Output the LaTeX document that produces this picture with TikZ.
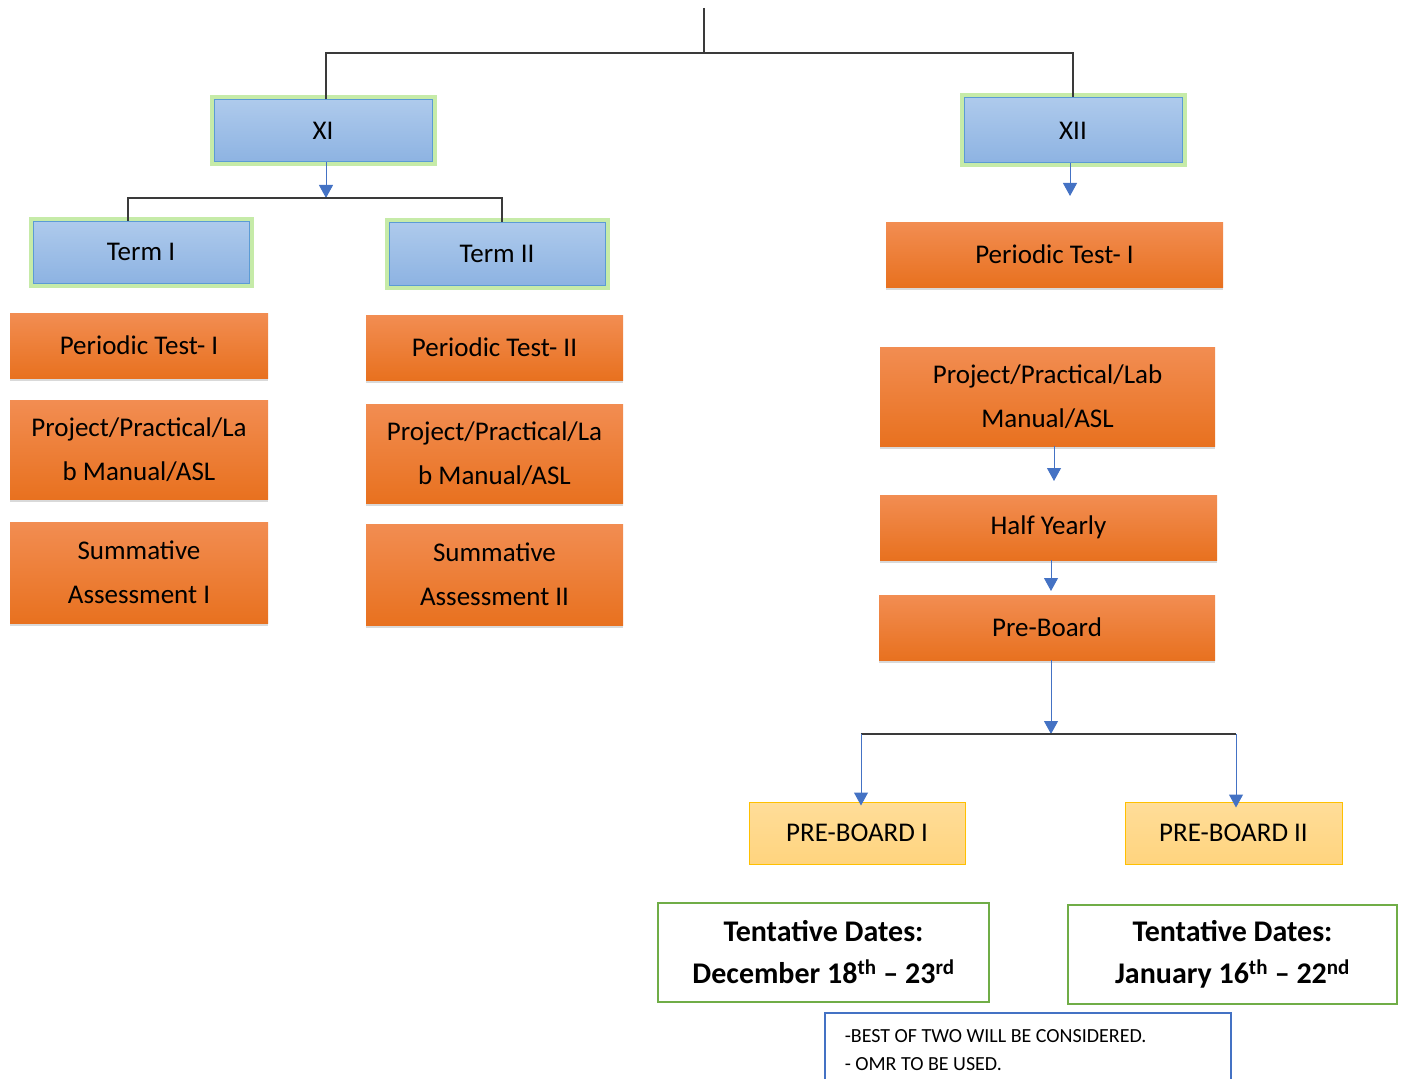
\documentclass[tikz,border=0pt]{standalone}
\usepackage{fontspec}
\setmainfont{Carlito}
\usetikzlibrary{arrows.meta,shadows}

\definecolor{classtop}{HTML}{AECAEC}
\definecolor{classbot}{HTML}{8DB3E2}
\definecolor{classline}{HTML}{5B9BD5}
\definecolor{glowgreen}{HTML}{C6EBA8}
\definecolor{orangetop}{HTML}{F28D52}
\definecolor{orangebot}{HTML}{E8711F}
\definecolor{boardtop}{HTML}{FFDD99}
\definecolor{boardbot}{HTML}{FFD47E}
\definecolor{boardline}{HTML}{FFC000}
\definecolor{dateline}{HTML}{70AD47}
\definecolor{noteline}{HTML}{4472C4}
\definecolor{treeline}{HTML}{3A3A3A}

\begin{document}
\begin{tikzpicture}[x=1pt,y=-1pt,
  every node/.style={font=\fontsize{27pt}{44pt}\selectfont, align=center, inner sep=0pt},
  classbox/.style={draw=classline, line width=1pt, top color=classtop, bottom color=classbot,
    preaction={draw=glowgreen, line width=9pt}},
  testbox/.style={top color=orangetop, bottom color=orangebot,
    drop shadow={shadow xshift=0pt, shadow yshift=-3pt, opacity=0.3}},
  boardbox/.style={draw=boardline, line width=1pt, top color=boardtop, bottom color=boardbot},
  datebox/.style={draw=dateline, line width=1.5pt, fill=white,
    font=\fontsize{30pt}{42pt}\selectfont\bfseries},
  flow/.style={draw=noteline, line width=1pt, -{Triangle[width=14pt,length=13pt]}},
  tree/.style={draw=treeline, line width=1.3pt}]
\useasboundingbox (0,0) rectangle (1407,1078);

%classes
\node[classbox, minimum width=218, minimum height=62] (xi) at (323,131) {XI};
\node[classbox, minimum width=218, minimum height=65] (xii) at (1073,130.5) {XII};
\coordinate (top) at (704,8);
\coordinate (split) at (704,53);
\draw[tree] (top) -- (split);
\draw[tree] ([xshift=3pt]xi.north) |- (split) -| (xii.north);

%class XI terms
\node[classbox, minimum width=216, minimum height=62] (termi) at (141,252) {Term I};
\node[classbox, minimum width=216, minimum height=63] (termii) at (497,253.5) {Term II};
\coordinate (xisplit) at (326,198);
\draw[flow] ([xshift=3pt]xi.south) -- (xisplit);
\draw[tree] ([xshift=-13pt]termi.north) |- (xisplit) -| ([xshift=5pt]termii.north);

\node[testbox, minimum width=258, minimum height=65] (pti) at (139,345.5) {Periodic Test- I};
\node[testbox, minimum width=258, minimum height=99] (proji) at (139,449.5) {Project/Practical/La\\b Manual/ASL};
\node[testbox, minimum width=258, minimum height=101] (sumi) at (139,572.5) {Summative\\Assessment I};

\node[testbox, minimum width=257, minimum height=65] (ptii) at (494.5,347.5) {Periodic Test- II};
\node[testbox, minimum width=257, minimum height=99] (projii) at (494.5,453.5) {Project/Practical/La\\b Manual/ASL};
\node[testbox, minimum width=257, minimum height=101] (sumii) at (494.5,574.5) {Summative\\Assessment II};

%class XII
\node[testbox, minimum width=337, minimum height=65] (ptxii) at (1054.5,254.5) {Periodic Test- I};
\coordinate (xiiend) at (1070,196);
\draw[flow] ([xshift=-3pt]xii.south) -- (xiiend);
\node[testbox, minimum width=335, minimum height=99] (projxii) at (1047.5,396.5) {Project/Practical/Lab\\Manual/ASL};
\node[testbox, minimum width=337, minimum height=65] (half) at (1048.5,527.5) {Half Yearly};
\node[testbox, minimum width=336, minimum height=65] (preb) at (1047,627.5) {Pre-Board};
\coordinate (halfin) at (1054,481);
\coordinate (prebin) at (1051,591);
\coordinate (pbsplit) at (1051,734);
\draw[flow] (projxii.south -| halfin) -- (halfin);
\draw[flow] (half.south -| prebin) -- (prebin);
\draw[flow] (preb.south -| pbsplit) -- (pbsplit);

%pre-boards
\node[boardbox, minimum width=216, minimum height=62] (pbi) at (857,833) {PRE-BOARD I};
\node[boardbox, minimum width=217, minimum height=62] (pbii) at (1233.5,833) {PRE-BOARD II};
\coordinate (pbileft) at (861,734);
\coordinate (pbiiright) at (1236,734);
\draw[tree] (pbileft) -- (pbiiright);
\draw[flow] (pbileft) -- ([yshift=-4pt]pbi.north -| pbileft);
\draw[flow] (pbiiright) -- ([yshift=-6pt]pbii.north -| pbiiright);

\node[datebox, minimum width=331, minimum height=99] (datei) at (823.5,952.5)
  {Tentative Dates:\\December 18\textsuperscript{th} -- 23\textsuperscript{rd}};
\node[datebox, minimum width=329, minimum height=99] (dateii) at (1232.5,954.5)
  {Tentative Dates:\\January 16\textsuperscript{th} -- 22\textsuperscript{nd}};

\node[draw=noteline, line width=1.5pt, anchor=north west, minimum width=406,
  text width=366, align=flush left, inner xsep=20pt, inner ysep=17pt,
  font=\fontsize{20pt}{28pt}\selectfont] (note) at (824,1012)
  {-BEST OF TWO WILL BE CONSIDERED.\\- OMR TO BE USED.\\\mbox{}\\\mbox{}};

\end{tikzpicture}
\end{document}
